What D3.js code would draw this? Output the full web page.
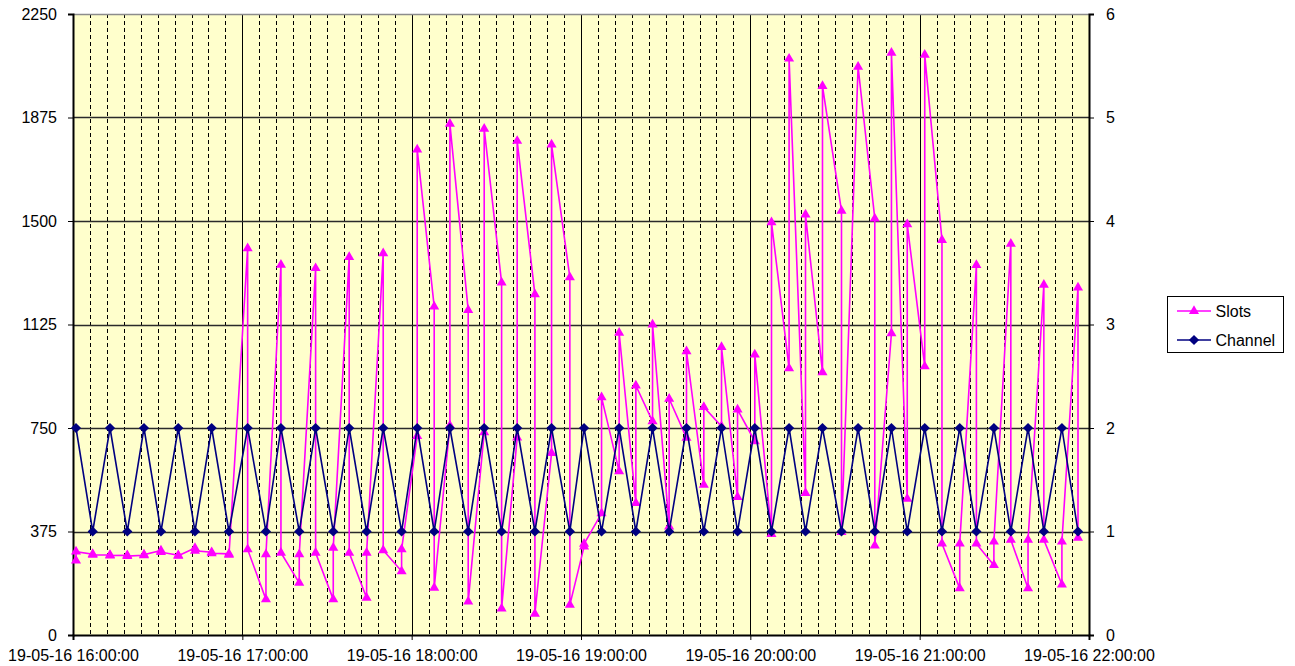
<!DOCTYPE html>
<html>
<head>
<meta charset="utf-8">
<script src="https://cdn.jsdelivr.net/npm/d3@7"></script>
<style>
  html, body { margin: 0; padding: 0; background: #ffffff; }
  svg { display: block; font-family: "Liberation Sans", Arial, sans-serif; }
</style>
</head>
<body>
<svg id="chart" width="1295" height="666"></svg>
<script>
// ---------------- DATA ----------------
const chartDate = "2016-05-19";
const xStart = "16:00:00";
const xEnd = "22:00:00";

const leftTicks = [0, 375, 750, 1125, 1500, 1875, 2250];
const rightTicks = [0, 1, 2, 3, 4, 5, 6];

const channelTimes = ["16:01:04","16:06:59","16:13:07","16:19:14","16:25:09","16:31:10","16:37:18","16:43:13","16:49:08","16:55:16",
  "17:01:53","17:08:22","17:13:41","17:20:10","17:25:58","17:32:13","17:37:52","17:44:02","17:49:55","17:56:26",
  "18:01:58","18:07:59","18:13:33","18:20:02","18:25:42","18:31:52","18:37:23","18:43:40","18:49:34","18:56:03",
  "19:01:05","19:07:17","19:13:31","19:19:26","19:25:21","19:31:14","19:37:23","19:43:31","19:49:47","19:55:28",
  "20:01:35","20:07:30","20:13:44","20:19:33","20:25:34","20:32:18","20:38:11","20:44:06","20:50:00","20:55:36",
  "21:01:48","21:07:54","21:14:12","21:20:06","21:26:18","21:32:18","21:38:24","21:44:00","21:50:24","21:56:06"];
const channelValues = [2,1,2,1,2,1,2,1,2,1, 2,1,2,1,2,1,2,1,2,1, 2,1,2,1,2,1,2,1,2,1,
  2,1,2,1,2,1,2,1,2,1, 2,1,2,1,2,1,2,1,2,1, 2,1,2,1,2,1,2,1,2,1];

const slotTimes = [
  "16:01:04","16:01:04","16:06:59","16:06:59","16:13:07","16:13:07","16:19:14","16:19:14","16:25:09","16:25:09",
  "16:31:10","16:31:10","16:37:18","16:37:18","16:43:13","16:43:13","16:49:08","16:49:08","16:55:16","16:55:16",
  "17:01:53","17:01:53","17:08:22","17:08:22","17:13:41","17:13:41","17:20:10","17:20:10","17:25:58","17:25:58",
  "17:32:13","17:32:13","17:37:52","17:37:52","17:44:02","17:44:02","17:49:55","17:49:55","17:56:26","17:56:26",
  "18:01:58","18:01:58","18:07:59","18:07:59","18:13:33","18:13:33","18:20:02","18:20:02","18:25:42","18:25:42",
  "18:31:52","18:31:52","18:37:23","18:37:23","18:43:40","18:43:40","18:49:34","18:49:34","18:56:03","18:56:03",
  "19:01:05","19:01:05","19:07:17","19:07:17","19:13:31","19:13:31","19:19:26","19:19:26","19:25:21","19:25:21",
  "19:31:14","19:31:14","19:37:23","19:37:23","19:43:31","19:43:31","19:49:47","19:49:47","19:55:28","19:55:28",
  "20:01:35","20:01:35","20:07:30","20:07:30","20:13:44","20:13:44","20:19:33","20:19:33","20:25:34","20:25:34",
  "20:32:18","20:32:18","20:38:11","20:44:06","20:44:06","20:50:00","20:50:00","20:55:36","20:55:36",
  "21:01:48","21:01:48","21:07:54","21:07:54","21:14:12","21:14:12","21:20:06","21:20:06","21:26:18","21:26:18",
  "21:32:18","21:32:18","21:38:24","21:38:24","21:44:00","21:44:00","21:50:24","21:50:24","21:56:06","21:56:06"];
const slotValues = [
  270,302, 293,290, 290,288, 289,286, 289,291,
  306,300, 289,287, 315,305, 300,296, 294,290,
  1401,310, 129,292, 1341,298, 189,292, 1329,298,
  129,316, 1369,298, 135,298, 1383,307, 231,310,
  721,1759, 1190,171, 759,1852, 1177,121, 734,1834,
  1277,96, 715,1790, 1234,77, 659,1777, 1296,109,
  320,330, 441,861, 593,1095, 478,904, 774,1125,
  393,856, 714,1028, 544,826, 756,1043, 500,817,
  702,1016, 366,1495, 966,2088, 514,1523, 952,1989,
  1537,373, 2059, 1509,324, 1093,2109, 493,1488,
  973,2102, 1431,331, 169,331, 1340,331, 253,338,
  1417,345, 169,345, 1269,345, 183,338, 1259,352];

const seriesNames = ["Slots", "Channel"];
const seriesColors = ["#FF00FF", "#000080"];

// ---------------- CHART ----------------
const parse = d3.timeParse("%Y-%m-%d %H:%M:%S");
const t = s => parse(chartDate + " " + s);
const fmt = d3.timeFormat("%d-%m-%y %H:%M:%S");

const plot = { left: 73, right: 1089, top: 14, bottom: 635 };
const svg = d3.select("#chart");

const x = d3.scaleTime().domain([t(xStart), t(xEnd)]).range([plot.left, plot.right]);
const yL = d3.scaleLinear().domain([0, 2250]).range([plot.bottom, plot.top]);
const yR = d3.scaleLinear().domain([0, 6]).range([plot.bottom, plot.top]);

// background
svg.append("rect").attr("x", plot.left).attr("y", plot.top)
  .attr("width", plot.right - plot.left).attr("height", plot.bottom - plot.top)
  .attr("fill", "#FFFFCC");

// minor dashed verticals every 6 minutes
const minorTicks = d3.timeMinute.every(6).range(t(xStart), t(xEnd))
  .filter(d => d.getMinutes() !== 0);
svg.append("g").selectAll("line").data(minorTicks).join("line")
  .attr("x1", d => Math.round(x(d)) + 0.5).attr("x2", d => Math.round(x(d)) + 0.5)
  .attr("y1", plot.top).attr("y2", plot.bottom)
  .attr("stroke", "#000").attr("stroke-width", 1).attr("stroke-dasharray", "4,3");

// hour verticals
const hourTicks = d3.timeHour.every(1).range(t(xStart), d3.timeMinute.offset(t(xEnd), 1));
svg.append("g").selectAll("line").data(hourTicks.filter(d => +d !== +t(xStart) && +d !== +t(xEnd))).join("line")
  .attr("x1", d => Math.round(x(d)) + 0.5).attr("x2", d => Math.round(x(d)) + 0.5)
  .attr("y1", plot.top).attr("y2", plot.bottom)
  .attr("stroke", "#000").attr("stroke-width", 1);

// horizontal gridlines
svg.append("g").selectAll("line").data(leftTicks.filter(v => v > 0)).join("line")
  .attr("x1", plot.left).attr("x2", plot.right)
  .attr("y1", d => Math.round(yL(d)) + 0.5).attr("y2", d => Math.round(yL(d)) + 0.5)
  .attr("stroke", d => d === 2250 ? "#8c8c8c" : "#2a2a2a").attr("stroke-width", 1.5);

// axes
const axisFont = g => g.selectAll("text").attr("font-size", 16).attr("fill", "#000")
  .attr("font-family", '"Liberation Sans", Arial, sans-serif');

const gL = svg.append("g").attr("transform", `translate(${plot.left},0)`)
  .call(d3.axisLeft(yL).tickValues(leftTicks).tickSize(5).tickPadding(11).tickFormat(d3.format("d")));
gL.call(axisFont);
gL.select(".domain").attr("stroke", "#000").attr("stroke-width", 2);
gL.selectAll(".tick line").attr("stroke", "#000");

const gR = svg.append("g").attr("transform", `translate(${plot.right},0)`)
  .call(d3.axisRight(yR).tickValues(rightTicks).tickSize(5).tickPadding(12).tickFormat(d3.format("d")));
gR.call(axisFont);
gR.select(".domain").attr("stroke", "#000").attr("stroke-width", 2);
gR.selectAll(".tick line").attr("stroke", "#000");

const gB = svg.append("g").attr("transform", `translate(0,${plot.bottom})`)
  .call(d3.axisBottom(x).tickValues(hourTicks).tickSize(5).tickPadding(10).tickFormat(fmt));
gB.call(axisFont);
gB.select(".domain").attr("stroke", "#000").attr("stroke-width", 2);
gB.selectAll(".tick line").attr("stroke", "#000");

// series data
const slotData = slotTimes.map((s, i) => ({ t: t(s), v: slotValues[i] }));
const chData = channelTimes.map((s, i) => ({ t: t(s), v: channelValues[i] }));

const triangle = d3.symbol().type(d3.symbolTriangle).size(44);
const diamond = d3.symbol().type(d3.symbolSquare).size(52);

// Slots
svg.append("path").datum(slotData)
  .attr("d", d3.line().x(d => x(d.t)).y(d => yL(d.v)))
  .attr("fill", "none").attr("stroke", seriesColors[0]).attr("stroke-width", 1.6);
svg.append("g").selectAll("path").data(slotData).join("path")
  .attr("transform", d => `translate(${x(d.t)},${yL(d.v)})`)
  .attr("d", triangle).attr("fill", seriesColors[0]);

// Channel
svg.append("path").datum(chData)
  .attr("d", d3.line().x(d => x(d.t)).y(d => yR(d.v)))
  .attr("fill", "none").attr("stroke", seriesColors[1]).attr("stroke-width", 1.6);
svg.append("g").selectAll("path").data(chData).join("path")
  .attr("transform", d => `translate(${x(d.t)},${yR(d.v)}) rotate(45)`)
  .attr("d", diamond).attr("fill", seriesColors[1]);

// legend
const lg = svg.append("g");
lg.append("rect").attr("x", 1167.5).attr("y", 296.5).attr("width", 116).attr("height", 56)
  .attr("fill", "#fff").attr("stroke", "#000").attr("stroke-width", 1);
const legendY = [311, 340];
seriesNames.forEach((name, i) => {
  lg.append("line").attr("x1", 1177).attr("x2", 1211).attr("y1", legendY[i]).attr("y2", legendY[i])
    .attr("stroke", seriesColors[i]).attr("stroke-width", 1.5);
  lg.append("path").attr("transform", `translate(1194,${legendY[i]})` + (i === 1 ? " rotate(45)" : ""))
    .attr("d", i === 0 ? triangle : diamond).attr("fill", seriesColors[i]);
  lg.append("text").attr("x", 1215.5).attr("y", legendY[i]).attr("dy", "0.35em")
    .attr("font-size", 16).text(name);
});
</script>
</body>
</html>
